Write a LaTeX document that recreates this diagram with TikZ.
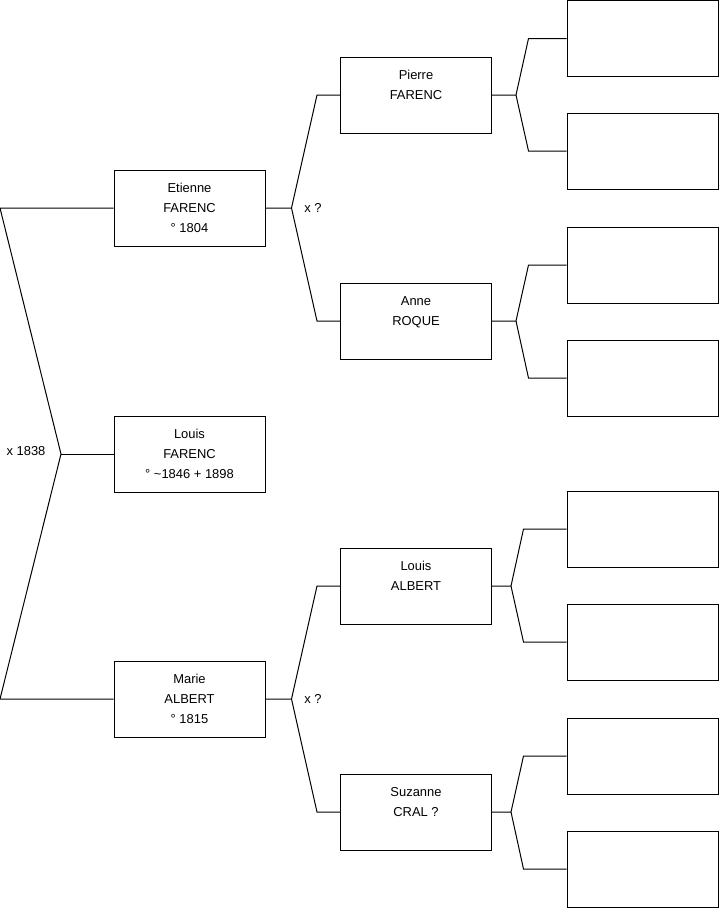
\documentclass[tikz,border=0pt]{standalone}
\usepackage{fontspec}
\setmainfont{Liberation Sans}
\usetikzlibrary{positioning}

\begin{document}
\begin{tikzpicture}[
    x=0.75pt, y=-0.75pt,
    line width=0.75pt,
    box/.style = {draw, minimum width=113.25pt, minimum height=57pt,
                  inner sep=0pt, align=center,
                  font=\fontsize{9.7}{15}\selectfont},
    lbl/.style = {font=\fontsize{9.7}{15}\selectfont}]
  \useasboundingbox (0,0) rectangle (719,908);
  % child and parents
  \node[box] (louis)   at (189.5,454) {Louis\\FARENC\\° \textasciitilde1846 + 1898};
  \node[box] (etienne) at (189.5,208) {Etienne\\FARENC\\° 1804};
  \node[box] (marie)   at (189.5,699) {Marie\\ALBERT\\° 1815};
  % grandparents
  \node[box] (pierre)  at (416,95)  {Pierre\\FARENC\\\phantom{0}};
  \node[box] (anne)    at (416,321) {Anne\\ROQUE\\\phantom{0}};
  \node[box] (louisa)  at (416,586) {Louis\\ALBERT\\\phantom{0}};
  \node[box] (suzanne) at (416,812) {Suzanne\\CRAL ?\\\phantom{0}};
  % empty slots
  \foreach \y [count=\i] in {38.5,151,265,378,529,642,756,869}
    \node[box] (b\i) at (642.5,\y) {};

  % marriage of the parents
  \coordinate (xroot) at (61,454);
  \draw (etienne.west) -- ++(-113.5,0) -- (xroot)
        -- ([xshift=-85.125pt]marie.west) -- (marie.west);
  \draw (xroot) -- (louis.west);
  \node[lbl] (mroot) at (26,451) {x 1838};

  % grandparents
  \draw (etienne.east) -- ++(26,0) coordinate (xe)
        -- ([xshift=-17.25pt]pierre.west) -- (pierre.west);
  \draw (xe) -- ([xshift=-17.25pt]anne.west) -- (anne.west);
  \node[lbl, right=6pt of xe] (me) {x ?};
  \draw (marie.east) -- ++(26,0) coordinate (xm)
        -- ([xshift=-17.25pt]louisa.west) -- (louisa.west);
  \draw (xm) -- ([xshift=-17.25pt]suzanne.west) -- (suzanne.west);
  \node[lbl, right=6pt of xm] (mm) {x ?};

  % great-grandparents
  \draw (pierre.east) -- ++(24,0) coordinate (xp)
        -- ([xshift=-28.5pt]b1.west) -- (b1.west);
  \draw (xp) -- ([xshift=-28.5pt]b2.west) -- (b2.west);
  \draw (anne.east) -- ++(24,0) coordinate (xa)
        -- ([xshift=-28.5pt]b3.west) -- (b3.west);
  \draw (xa) -- ([xshift=-28.5pt]b4.west) -- (b4.west);
  \draw (louisa.east) -- ++(19,0) coordinate (xl)
        -- ([xshift=-32.25pt]b5.west) -- (b5.west);
  \draw (xl) -- ([xshift=-32.25pt]b6.west) -- (b6.west);
  \draw (suzanne.east) -- ++(19,0) coordinate (xs)
        -- ([xshift=-32.25pt]b7.west) -- (b7.west);
  \draw (xs) -- ([xshift=-32.25pt]b8.west) -- (b8.west);
\end{tikzpicture}
\end{document}
